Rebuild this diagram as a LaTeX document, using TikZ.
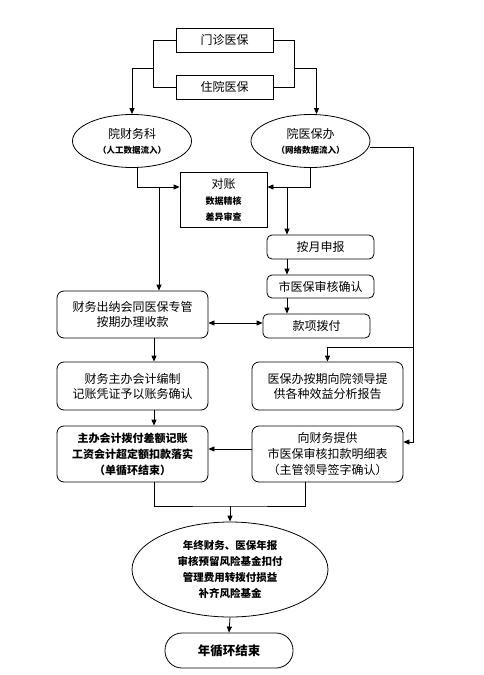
\documentclass[tikz,border=0pt]{standalone}
\usepackage{fontspec}
\setmainfont{Noto Sans CJK SC}
\usetikzlibrary{shapes.geometric,arrows.meta}
\begin{document}
\begin{tikzpicture}[x=1pt,y=-1pt,
  line width=0.8pt,
  arr/.style={-{Triangle[length=6pt,width=5pt]}},
  darr/.style={{Triangle[length=6pt,width=5pt]}-{Triangle[length=6pt,width=5pt]}},
  sq/.style={draw,rectangle,inner sep=0pt,align=center},
  rbox/.style={sq,rounded corners=5pt},
  lbox/.style={sq,rounded corners=7pt,minimum width=151pt},
  ell/.style={draw,ellipse,inner sep=0pt,align=center},
  nt/.style={font=\fontsize{12}{15}\selectfont},
  bt/.style={font=\bfseries\fontsize{11}{16}\selectfont},
]
\useasboundingbox (0,0) rectangle (484,675);

% nodes
\node[sq,nt,minimum width=97pt,minimum height=24pt] (mz) at (224.5,40) {门诊医保};
\node[sq,nt,minimum width=97pt,minimum height=24pt] (zy) at (224.5,87) {住院医保};
\node[ell,nt,minimum width=119pt,minimum height=53pt] (cwk) at (132,141)
  {院财务科\\{\bfseries\fontsize{8.5}{10}\selectfont （人工数据流入）}};
\node[ell,nt,minimum width=119pt,minimum height=53pt] (ybb) at (310.5,141)
  {院医保办\\{\bfseries\fontsize{8.5}{10}\selectfont （网络数据流入）}};
\node[sq,font=\fontsize{12}{16}\selectfont,minimum width=87pt,minimum height=55pt] (dz) at (223.5,199.5)
  {对账\\{\bfseries\fontsize{9}{16}\selectfont 数据精核}\\{\bfseries\fontsize{9}{16}\selectfont 差异审查}};
\node[rbox,nt,minimum width=107pt,minimum height=24pt] (ay) at (320.5,247) {按月申报};
\node[rbox,nt,minimum width=107pt,minimum height=23pt] (sy) at (320.5,286.5) {市医保审核确认};
\node[rbox,nt,minimum width=107pt,minimum height=24pt] (kx) at (316.5,326) {款项拨付};
\node[lbox,nt,minimum height=47pt] (cn) at (132.5,314.5) {财务出纳会同医保专管\\按期办理收款};
\node[lbox,nt,minimum height=48pt] (cz) at (132.5,386) {财务主办会计编制\\记账凭证予以账务确认};
\node[lbox,nt,minimum height=48pt] (yb) at (327.5,386) {医保办按期向院领导提\\供各种效益分析报告};
\node[lbox,bt,minimum height=56pt] (zb) at (132.5,454) {主办会计拨付差额记账\\工资会计超定额扣款落实\\（单循环结束）};
\node[lbox,font=\fontsize{12}{16}\selectfont,minimum height=56pt] (xc) at (327.5,454) {向财务提供\\市医保审核扣款明细表\\（主管领导签字确认）};
\node[ell,font=\bfseries\fontsize{10.5}{16}\selectfont,minimum width=196pt,minimum height=95pt] (ye) at (230,569.5)
  {年终财务、医保年报\\审核预留风险基金扣付\\管理费用转拨付损益\\补齐风险基金};
\node[draw,rounded corners=17pt,inner sep=0pt,minimum width=128pt,minimum height=35pt,
  font=\bfseries\fontsize{12.5}{15}\selectfont] (end) at (229,650.5) {年循环结束};

% coordinates
\coordinate (lj) at (154,68);
\coordinate (rj) at (294,68);
\coordinate (lj2) at (159,187);
\coordinate (rj2) at (287,187);
\coordinate (rx) at (413,442);
\coordinate (rb) at (413,347);
\coordinate (mrg) at (230,506);

% connectors
\draw (mz.west) -- ++(-22,0) |- (zy.west);
\draw (mz.east) -- ++(21,0) |- (zy.east);
\draw[arr] (lj) -| (cwk.north);
\draw[arr] (rj) -| ([xshift=6pt]ybb.north);
\draw[arr] ([xshift=5pt]cwk.south) |- ([yshift=12.5pt]dz.west);
\draw[arr] (ybb.south) |- ([yshift=12.5pt]dz.east);
\draw[arr] (lj2) -- (lj2 |- cn.north);
\draw[arr] (rj2) -- (rj2 |- ay.north);
\draw[arr] (rj2 |- ay.south) -- (rj2 |- sy.north);
\draw[arr] (rj2 |- sy.south) -- (rj2 |- kx.north);
\draw[darr] ([yshift=-8.5pt]cn.east) -- ([yshift=3pt]kx.west);
\draw[arr] ([xshift=21.5pt]cn.south) -- ([xshift=21.5pt]cz.north);
\draw[arr] ([xshift=21.5pt]cz.south) -- ([xshift=21.5pt]zb.north);
\draw[arr] ([yshift=-6pt]ybb.east) -| (rx) -- ([yshift=12pt]xc.east);
\draw[arr] (rb) -| (yb.north);
\draw[arr] ([yshift=5pt]xc.west) -- ([yshift=5pt]zb.east);
\draw ([xshift=21.5pt]zb.south) |- (mrg) -| ([xshift=-22.5pt]xc.south);
\draw[arr] (mrg) -- (ye.north);
\draw[arr] (ye.south) -- (end.north);
\end{tikzpicture}
\end{document}
